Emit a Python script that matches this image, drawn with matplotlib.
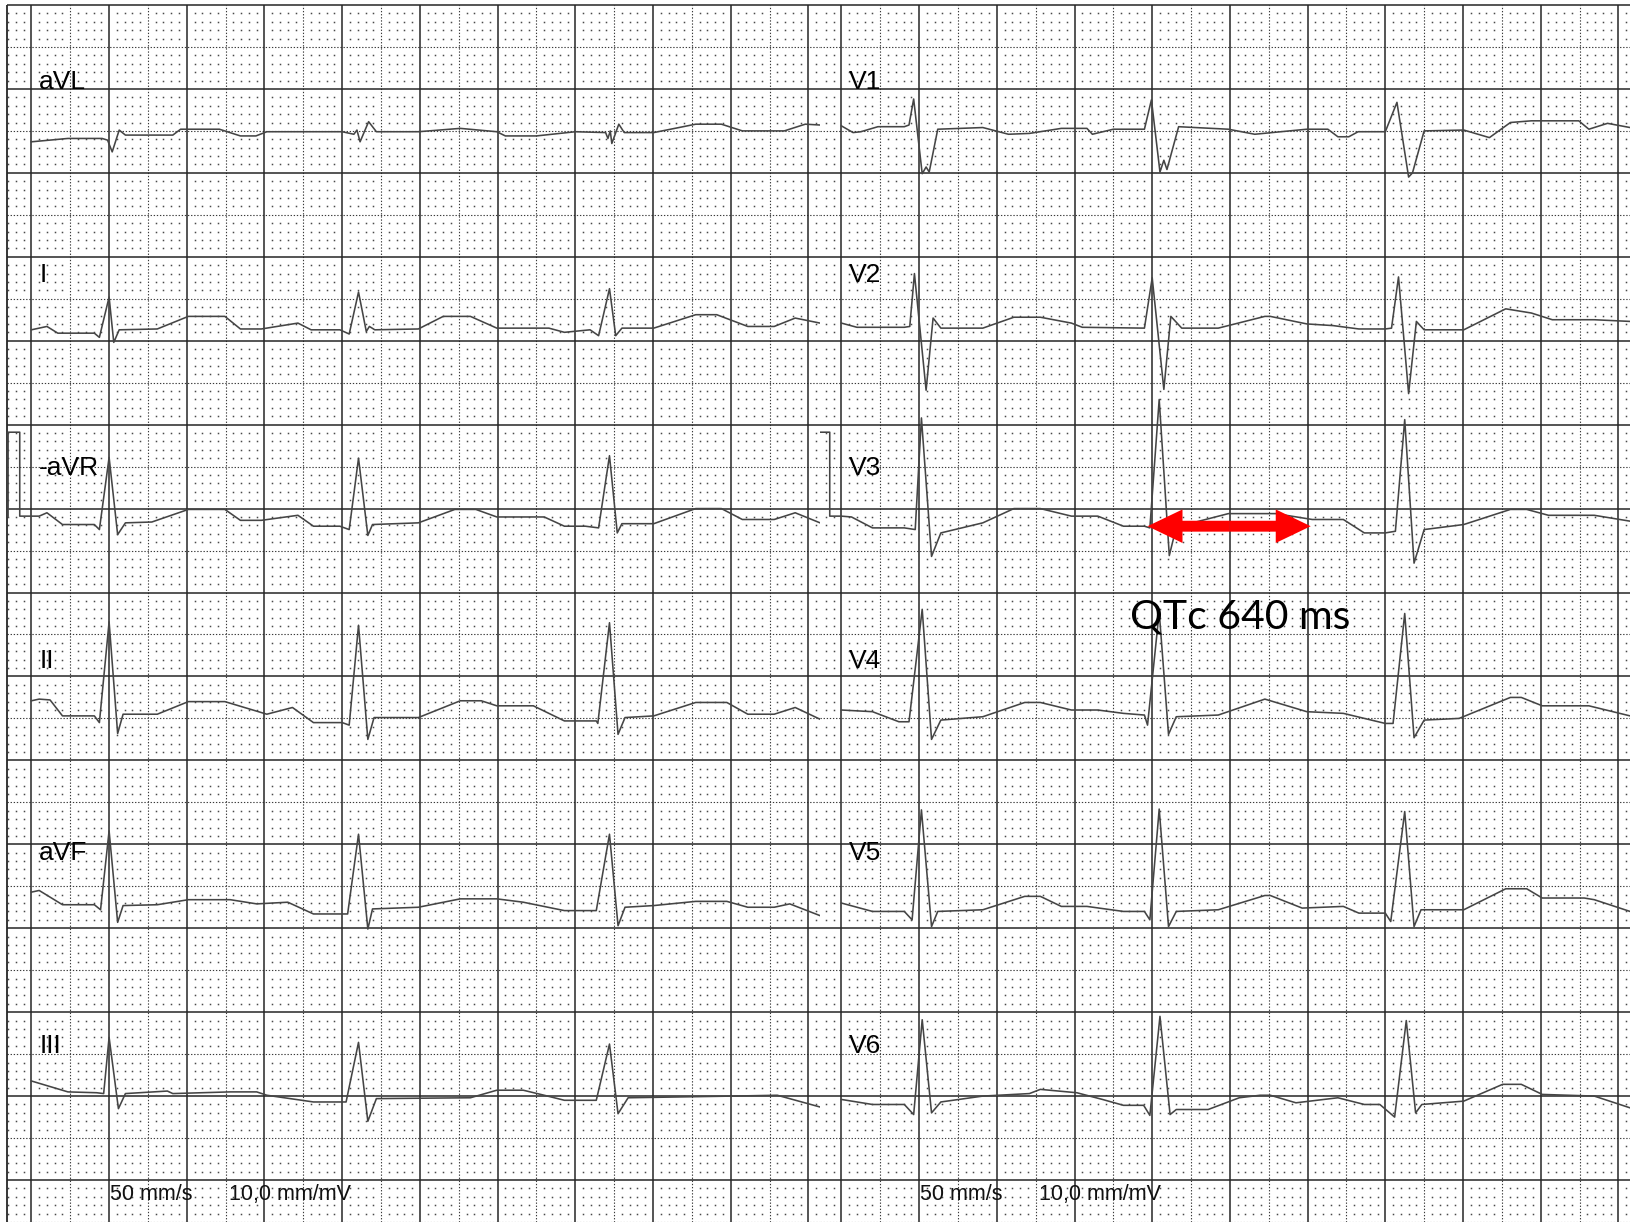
import numpy as np
import matplotlib
matplotlib.use("Agg")
import matplotlib.pyplot as plt

# traces: (time in ms from first major line, amplitude in mV)
avl = [(0, -0.08), (94, -0.04), (182, -0.04), (196, -0.06), (208, -0.20), (226, 0.06), (242, 0.0),
       (364, 0.0), (384, 0.07), (484, 0.07), (538, -0.01), (578, -0.01), (606, 0.04), (800, 0.04),
       (830, 0.01), (838, 0.06), (846, -0.08), (868, 0.16), (888, 0.04), (996, 0.04), (1104, 0.08),
       (1198, 0.04), (1220, -0.01), (1300, -0.01), (1400, 0.04), (1478, 0.03), (1484, -0.04),
       (1490, 0.05), (1494, -0.10), (1512, 0.13), (1526, 0.03), (1602, 0.03), (1710, 0.13),
       (1776, 0.13), (1830, 0.05), (1938, 0.05), (1992, 0.13), (2030, 0.12)]
lead_i = [(0, 0.0), (40, 0.04), (68, -0.04), (162, -0.04), (175, -0.09), (200, 0.39), (212, -0.15),
          (226, 0.0), (324, 0.01), (404, 0.16), (498, 0.16), (538, 0.01), (592, 0.01), (686, 0.08),
          (720, 0.0), (794, 0.0), (818, -0.05), (842, 0.45), (862, -0.02), (870, 0.04), (884, 0.0),
          (996, 0.01), (1060, 0.16), (1130, 0.16), (1198, 0.02), (1332, 0.02), (1372, -0.03),
          (1438, 0.0), (1460, -0.07), (1488, 0.49), (1504, -0.07), (1520, 0.02), (1602, 0.02),
          (1710, 0.18), (1764, 0.18), (1844, 0.04), (1912, 0.04), (1966, 0.14), (2030, 0.08)]
neg_avr = [(0, 0.0), (20, 0.0), (40, 0.04), (80, -0.10), (162, -0.10), (175, -0.16), (200, 0.70),
           (222, -0.22), (242, -0.08), (310, -0.07), (404, 0.08), (498, 0.08), (538, -0.05),
           (592, -0.05), (686, 0.01), (726, -0.12), (794, -0.12), (818, -0.16), (842, 0.69),
           (866, -0.23), (878, -0.10), (996, -0.08), (1090, 0.08), (1144, 0.08), (1198, -0.01),
           (1320, -0.01), (1372, -0.12), (1426, -0.12), (1460, -0.14), (1488, 0.72), (1508, -0.20),
           (1520, -0.09), (1602, -0.09), (1710, 0.09), (1776, 0.09), (1830, -0.04), (1912, -0.04),
           (1966, 0.04), (2030, -0.08)]
lead_ii = [(0, 0.17), (20, 0.19), (48, 0.18), (80, -0.01), (162, -0.01), (175, -0.09), (200, 1.11),
           (222, -0.22), (236, 0.01), (324, 0.01), (404, 0.16), (498, 0.16), (606, 0.01), (672, 0.09),
           (726, -0.09), (800, -0.09), (818, -0.12), (842, 1.07), (866, -0.29), (882, -0.03),
           (996, -0.03), (1104, 0.17), (1158, 0.17), (1198, 0.11), (1292, 0.11), (1372, -0.07),
           (1454, -0.07), (1458, -0.10), (1488, 1.10), (1510, -0.23), (1528, -0.03), (1602, -0.01),
           (1710, 0.15), (1790, 0.15), (1844, 0.01), (1912, 0.01), (1966, 0.09), (2030, -0.05)]
avf = [(0, 0.15), (20, 0.17), (80, 0.0), (162, 0.0), (178, -0.06), (200, 0.88), (222, -0.21),
       (236, -0.01), (324, 0.0), (404, 0.06), (512, 0.06), (580, 0.01), (660, 0.03), (726, -0.11),
       (814, -0.11), (842, 0.84), (866, -0.29), (878, -0.05), (996, -0.03), (1104, 0.07), (1198, 0.07),
       (1266, 0.03), (1372, -0.07), (1454, -0.07), (1488, 0.84), (1510, -0.25), (1528, -0.03),
       (1602, -0.01), (1710, 0.04), (1790, 0.04), (1844, -0.03), (1912, -0.03), (1952, 0.01),
       (2030, -0.13)]
lead_iii = [(0, 0.14), (94, 0.01), (168, 0.0), (186, -0.01), (200, 0.66), (224, -0.19), (242, -0.01),
            (350, 0.02), (364, -0.01), (512, 0.01), (580, 0.01), (606, -0.03), (726, -0.11),
            (810, -0.11), (842, 0.60), (866, -0.34), (888, -0.07), (1130, -0.06), (1198, 0.03),
            (1266, 0.03), (1320, -0.03), (1372, -0.09), (1454, -0.09), (1488, 0.58), (1510, -0.25),
            (1536, -0.06), (1804, -0.04), (1920, -0.03), (2030, -0.17)]

v1 = [(0, 0.02), (30, -0.06), (50, -0.05), (94, 0.01), (162, 0.01), (174, 0.03), (186, 0.34),
      (208, -0.55), (218, -0.47), (226, -0.53), (248, -0.02), (364, 0.0), (430, -0.08), (484, -0.07),
      (566, -0.01), (632, -0.01), (646, -0.08), (700, -0.02), (780, -0.02), (798, 0.33), (820, -0.53),
      (830, -0.39), (838, -0.50), (868, 0.01), (996, -0.02), (1064, -0.08), (1198, -0.02),
      (1252, -0.02), (1278, -0.11), (1306, -0.11), (1330, -0.05), (1400, -0.05), (1430, 0.30),
      (1460, -0.59), (1470, -0.54), (1500, -0.04), (1602, -0.03), (1668, -0.12), (1722, 0.06),
      (1776, 0.08), (1898, 0.08), (1924, -0.02), (1972, 0.05), (2030, 0.0)]
v2 = [(0, 0.05), (40, 0.0), (162, 0.0), (176, 0.01), (188, 0.64), (218, -0.75), (236, 0.11),
      (256, -0.01), (364, -0.01), (444, 0.12), (512, 0.12), (592, 0.05), (620, 0.0), (780, -0.01),
      (800, 0.59), (830, -0.74), (848, 0.13), (876, -0.01), (970, -0.01), (1090, 0.13), (1104, 0.13),
      (1198, 0.04), (1266, 0.02), (1332, -0.02), (1400, -0.02), (1416, -0.01), (1434, 0.60),
      (1460, -0.79), (1480, 0.07), (1500, -0.03), (1602, -0.03), (1710, 0.22), (1776, 0.17),
      (1830, 0.09), (1938, 0.09), (2030, 0.07)]
v3 = [(0, 0.0), (26, -0.01), (80, -0.14), (162, -0.14), (190, -0.16), (206, 1.17), (232, -0.48),
      (256, -0.20), (364, -0.08), (444, 0.09), (512, 0.09), (592, 0.0), (660, 0.0), (726, -0.12),
      (780, -0.12), (794, -0.14), (818, 1.39), (844, -0.47), (862, -0.13), (996, 0.03), (1118, 0.03),
      (1212, -0.04), (1292, -0.04), (1346, -0.20), (1400, -0.20), (1426, -0.18), (1450, 1.15),
      (1474, -0.56), (1500, -0.16), (1602, -0.10), (1722, 0.08), (1764, 0.08), (1820, 0.01),
      (1938, 0.01), (2030, -0.06)]
v4 = [(0, 0.08), (80, 0.06), (148, -0.06), (174, -0.06), (208, 1.28), (232, -0.27), (256, -0.04),
      (364, 0.0), (472, 0.17), (512, 0.17), (592, 0.08), (660, 0.08), (726, 0.04), (780, 0.02),
      (788, -0.10), (818, 1.25), (842, -0.21), (862, 0.0), (970, 0.02), (1090, 0.21), (1198, 0.06),
      (1292, 0.04), (1400, -0.08), (1420, -0.08), (1450, 1.23), (1474, -0.25), (1500, -0.04),
      (1590, -0.02), (1722, 0.23), (1750, 0.23), (1804, 0.13), (1924, 0.13), (2030, 0.01)]
v5 = [(0, 0.10), (80, 0.0), (162, 0.0), (182, -0.10), (206, 1.21), (232, -0.18), (248, 0.0),
      (364, 0.02), (472, 0.18), (512, 0.18), (566, 0.06), (632, 0.06), (726, 0.0), (780, 0.0),
      (794, -0.10), (818, 1.22), (842, -0.18), (862, 0.0), (970, 0.02), (1090, 0.19), (1104, 0.19),
      (1186, 0.04), (1292, 0.06), (1332, -0.02), (1400, -0.02), (1414, -0.12), (1450, 1.19),
      (1474, -0.18), (1492, 0.02), (1602, 0.02), (1710, 0.27), (1764, 0.27), (1804, 0.16),
      (1912, 0.16), (1938, 0.14), (2030, 0.0)]
v6 = [(0, 0.04), (80, -0.02), (162, -0.02), (186, -0.14), (208, 0.99), (232, -0.12), (256, 0.01),
      (364, 0.08), (484, 0.11), (512, 0.16), (606, 0.12), (672, 0.04), (726, -0.03), (778, -0.03),
      (794, -0.15), (820, 1.03), (846, -0.14), (862, -0.08), (944, -0.08), (1024, 0.06), (1078, 0.09),
      (1104, 0.09), (1170, 0.0), (1278, 0.06), (1346, -0.02), (1386, -0.02), (1424, -0.17),
      (1454, 0.98), (1478, -0.12), (1494, -0.02), (1602, 0.02), (1702, 0.22), (1750, 0.22),
      (1804, 0.10), (1938, 0.08), (2030, -0.06)]

# 1 mV calibration pulse
cal_pulse = [(-60, 0.0), (-60, 1.0), (-30, 1.0), (-30, 0.0), (0, 0.0)]

left_names = ["aVL", "I", "-aVR", "II", "aVF", "III"]
left_traces = [avl, lead_i, neg_avr, lead_ii, avf, lead_iii]
right_names = ["V1", "V2", "V3", "V4", "V5", "V6"]
right_traces = [v1, v2, v3, v4, v5, v6]
cal_leads = ["-aVR", "V3"]

speed_label = "50 mm/s"
gain_label = "10,0 mm/mV"
qtc_label = "QTc 640 ms"
qt_start_ms = 788
qt_end_ms = 1208

# paper layout (mm, y measured downward from the top as negative)
MS_PER_MM = 20.0  # 50 mm/s
MM_PER_MV = 10.0
left_base = [-15.5, -38.7, -60.9, -84.6, -107.2, -129.6]
right_base = [-14.6, -38.4, -60.9, -84.8, -108.0, -130.8]
label_y = [-10.0, -33.0, -56.0, -79.0, -101.9, -124.9]

W, H = 1630, 1222
fig = plt.figure(figsize=(W / 100, H / 100), dpi=100)
PXX, PXY = 7.77, 8.393
top_px = 5
ymin = -(H - top_px) / PXY

ax_l = fig.add_axes([7 / W, 0, 813 / W, (H - top_px) / H])
ax_r = fig.add_axes([820 / W, 0, 810 / W, (H - top_px) / H])
lims = {ax_l: (-(31.4 - 7) / PXX, -(31.4 - 7) / PXX + 813 / PXX),
        ax_r: (-(841.4 - 820) / PXX, -(841.4 - 820) / PXX + 810 / PXX)}


def draw_grid(ax, x0, x1, border):
    ax.set_xlim(x0, x1)
    ax.set_ylim(ymin, 0)
    ax.axis("off")
    # 1 mm dots
    xs = np.array([v for v in range(int(np.ceil(x0)), int(np.floor(x1)) + 1) if v % 5])
    ys = np.array([v for v in range(int(np.ceil(ymin)), 1) if v % 5])
    gx, gy = np.meshgrid(xs, ys)
    ax.plot(gx.ravel(), gy.ravel(), ls="none", marker="s", ms=1.1, mew=0,
            color="#4a4a4a", zorder=1)
    # 5 mm dotted lines
    mx = [v for v in range(5, int(x1) + 1, 10)]
    my = [v for v in range(-5, int(ymin) - 1, -10)]
    ax.vlines(mx, ymin, 0, colors="#3a3a3a", lw=0.8, linestyles=(0, (1.2, 1.6)), zorder=2)
    ax.hlines(my, x0, x1, colors="#3a3a3a", lw=0.8, linestyles=(0, (1.2, 1.6)), zorder=2)
    # 10 mm lines
    Mx = [v for v in range(0, int(x1) + 1, 10)]
    My = [v for v in range(0, int(ymin) - 1, -10)]
    ax.vlines(Mx, ymin, 0, colors="#262626", lw=1.1, zorder=3, clip_on=False)
    ax.hlines(My, x0, x1, colors="#262626", lw=1.1, zorder=3, clip_on=False)
    if border:
        ax.vlines([x0 + 0.05], ymin, 0, colors="#262626", lw=1.3, zorder=3, clip_on=False)


def draw_leads(ax, names, traces, bases):
    for name, tr, base, ly in zip(names, traces, bases, label_y):
        t = np.array([p[0] for p in tr], float)
        mv = np.array([p[1] for p in tr], float)
        if name in cal_leads:
            t = np.concatenate([[p[0] for p in cal_pulse], t])
            mv = np.concatenate([[p[1] for p in cal_pulse], mv])
        ax.plot(t / MS_PER_MM, base + mv * MM_PER_MV, color="#454545", lw=1.15, zorder=5,
                solid_joinstyle="round")
        ax.text(1.0, ly, name, fontsize=19, family="Liberation Sans", color="black",
                ha="left", va="baseline", zorder=6)
    ax.text(10.1, -142.4, speed_label, fontsize=15.5, family="Liberation Sans", color="#111111",
            ha="left", va="baseline", zorder=6)
    ax.text(25.4, -142.4, gain_label, fontsize=15.5, family="Liberation Sans", color="#111111",
            ha="left", va="baseline", zorder=6)


draw_grid(ax_l, *lims[ax_l], border=True)
draw_grid(ax_r, *lims[ax_r], border=False)
draw_leads(ax_l, left_names, left_traces, left_base)
draw_leads(ax_r, right_names, right_traces, right_base)

# QT interval marker on V3
qt_y = -62.1
x_a, x_b = qt_start_ms / MS_PER_MM, qt_end_ms / MS_PER_MM
xc = (x_a + x_b) / 2
for x_end in (x_a, x_b):
    ax_r.arrow(xc, qt_y, x_end - xc, 0, width=1.3, head_width=4.0, head_length=4.5,
               length_includes_head=True, color="#ff0000", lw=0, zorder=8)
ax_r.text(37.1, -74.3, qtc_label, fontsize=29.5, family=["Lato", "DejaVu Sans"], color="black",
          ha="left", va="baseline", zorder=8)

fig.savefig("out.png", dpi=100, facecolor="white")
